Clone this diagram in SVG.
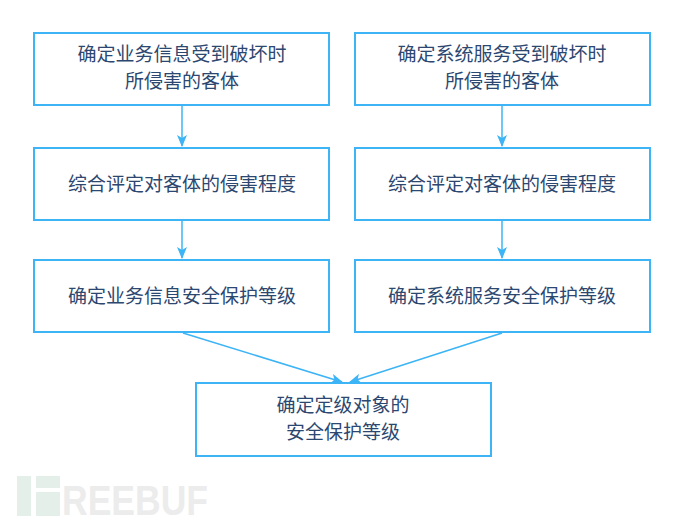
<svg xmlns="http://www.w3.org/2000/svg" width="690" height="524" viewBox="0 0 690 524">
<style>
.b{fill:#fff;stroke:#3cb4f5;stroke-width:2}
.t{font-family:"Noto Sans CJK SC","Noto Sans",sans-serif;font-size:19px;fill:#2c4770;text-anchor:middle}
.c{stroke:#3cb4f5;stroke-width:1.5;fill:none;marker-end:url(#a)}
</style>
<defs><marker id="a" markerWidth="12" markerHeight="10" refX="11" refY="5" orient="auto" markerUnits="userSpaceOnUse"><path d="M0,0L12,5L0,10L3,5Z" fill="#3cb4f5"/></marker></defs>
<rect width="690" height="524" fill="#fff"/>
<g id="watermark" font-family="Liberation Sans,sans-serif" font-weight="bold" font-size="42" fill="#ececec"><rect x="17" y="476" width="14" height="40" fill="#e4efe9"/><rect x="36" y="476" width="24" height="12" fill="#e4efe9"/><rect x="36" y="492" width="24" height="24" fill="#e4efe9"/><text x="62" y="515" textLength="146" lengthAdjust="spacingAndGlyphs">REEBUF</text></g>
<g id="connectors">
<path class="c" d="M182,106V146"/><path class="c" d="M182,221V258"/>
<path class="c" d="M502,106V146"/><path class="c" d="M502,221V258"/>
<path class="c" d="M183,333L342,382"/><path class="c" d="M502,333L350,382"/>
</g>
<g id="n1"><rect class="b" x="34" y="33" width="295" height="72"/><text class="t" x="182" y="61">确定业务信息受到破坏时</text><text class="t" x="182" y="88">所侵害的客体</text></g>
<g id="n2"><rect class="b" x="355" y="33" width="295" height="72"/><text class="t" x="502" y="61">确定系统服务受到破坏时</text><text class="t" x="502" y="88">所侵害的客体</text></g>
<g id="n3"><rect class="b" x="34" y="148" width="295" height="72"/><text class="t" x="182" y="191">综合评定对客体的侵害程度</text></g>
<g id="n4"><rect class="b" x="355" y="148" width="295" height="72"/><text class="t" x="502" y="191">综合评定对客体的侵害程度</text></g>
<g id="n5"><rect class="b" x="34" y="260" width="295" height="72"/><text class="t" x="182" y="303">确定业务信息安全保护等级</text></g>
<g id="n6"><rect class="b" x="355" y="260" width="295" height="72"/><text class="t" x="502" y="303">确定系统服务安全保护等级</text></g>
<g id="n7"><rect class="b" x="196" y="383" width="295" height="73"/><text class="t" x="343" y="412">确定定级对象的</text><text class="t" x="343" y="439">安全保护等级</text></g>
</svg>
